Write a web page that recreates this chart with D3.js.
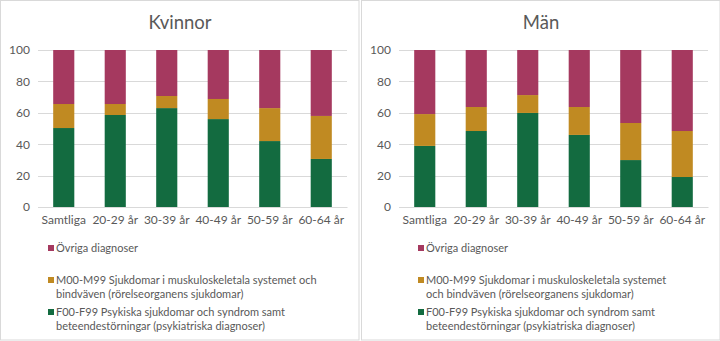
<!DOCTYPE html>
<html><head><meta charset="utf-8">
<script src="https://cdn.jsdelivr.net/npm/d3@7"></script>
<style>body{margin:0;background:#fff}svg{display:block}</style>
</head><body>
<svg id="c" width="720" height="341"></svg>
<script>
const categories = ["Samtliga","20-29 år","30-39 år","40-49 år","50-59 år","60-64 år"];
const yTicks = [0,20,40,60,80,100];
const seriesNames = ["F00-F99 Psykiska sjukdomar och syndrom samt beteendestörningar (psykiatriska diagnoser)","M00-M99 Sjukdomar i muskuloskeletala systemet och bindväven (rörelseorganens sjukdomar)","Övriga diagnoser"];
const colors = ["#136B40","#C08A22","#A5395F"];
// Kvinnor
const kvinnorF = [50.3,58.6,63.0,56.0,42.0,30.6];
const kvinnorM = [15.3,7.0,7.7,12.8,21.0,27.4];
const kvinnorO = [34.4,34.4,29.3,31.2,37.0,42.0];
// Män
const manF = [38.9,48.4,59.9,45.9,29.9,19.1];
const manM = [20.3,15.3,11.4,17.8,23.6,29.3];
const manO = [40.8,36.3,28.7,36.3,46.5,51.6];

const panels = [
  {title:"Kvinnor", x0:0, f:kvinnorF, m:kvinnorM, o:kvinnorO,
   legend:[["Övriga diagnoser"],["M00-M99 Sjukdomar i muskuloskeletala systemet och","bindväven (rörelseorganens sjukdomar)"],["F00-F99 Psykiska sjukdomar och syndrom samt","beteendestörningar (psykiatriska diagnoser)"]], lx:48},
  {title:"Män", x0:361, f:manF, m:manM, o:manO,
   legend:[["Övriga diagnoser"],["M00-M99 Sjukdomar i muskuloskeletala systemet","och bindväven (rörelseorganens sjukdomar)"],["F00-F99 Psykiska sjukdomar och syndrom samt","beteendestörningar (psykiatriska diagnoser)"]], lx:57}
];
const svg = d3.select("#c");
const font = "Lato, 'Open Sans', sans-serif";
panels.forEach(p=>{
  const g = svg.append("g").attr("transform",`translate(${p.x0},0)`);
  g.append("rect").attr("x",0.5).attr("y",0.5).attr("width",358.5).attr("height",339.5)
    .attr("fill","#fff").attr("stroke","#d9d9d9");
  const x = d3.scaleBand().domain(categories).range([38,347]).paddingInner(0.59).paddingOuter(0.295);
  const y = d3.scaleLinear().domain([0,100]).range([207,50]);
  g.append("text").attr("x",180).attr("y",29).attr("text-anchor","middle")
    .attr("font-family",font).attr("font-size",18.5).attr("fill","#595959").text(p.title);
  const grid = g.append("g");
  yTicks.forEach(t=>{
    grid.append("line").attr("x1",38).attr("x2",347).attr("y1",Math.round(y(t))+0.5).attr("y2",Math.round(y(t))+0.5)
      .attr("stroke","#d9d9d9").attr("stroke-width",1);
  });
  const yAxis = d3.axisLeft(y).tickValues(yTicks).tickSize(0).tickPadding(8);
  const ya = g.append("g").attr("transform","translate(38,0)").call(yAxis);
  ya.select(".domain").remove();
  ya.selectAll("text").attr("font-family",font).attr("font-size",12).attr("fill","#595959");
  const stackData = categories.map((c,i)=>({cat:c, f:p.f[i], m:p.m[i], o:p.o[i]}));
  const stack = d3.stack().keys(["f","m","o"])(stackData);
  stack.forEach((s,si)=>{
    g.append("g").selectAll("rect").data(s).join("rect")
      .attr("x",d=>x(d.data.cat)).attr("width",x.bandwidth())
      .attr("y",d=>y(d[1])).attr("height",d=>y(d[0])-y(d[1]))
      .attr("fill",colors[si]);
  });
  const xAxis = d3.axisBottom(x).tickSize(0).tickPadding(8);
  const xa = g.append("g").attr("transform","translate(0,207)").call(xAxis);
  xa.select(".domain").attr("stroke","#d9d9d9");
  xa.selectAll("text").attr("font-family",font).attr("font-size",12).attr("fill","#595959");
  // legend
  const legendColors = [colors[2],colors[1],colors[0]];
  const ly = [248,280,312];
  p.legend.forEach((lines,i)=>{
    g.append("rect").attr("x",p.lx).attr("y",ly[i]-3).attr("width",6).attr("height",6).attr("fill",legendColors[i]);
    const t = g.append("text").attr("font-family",font).attr("font-size",11).attr("fill","#595959");
    lines.forEach((ln,j)=>{
      t.append("tspan").attr("x",p.lx+8).attr("y",ly[i]+4+j*14).text(ln);
    });
  });
});
</script>
</body></html>
